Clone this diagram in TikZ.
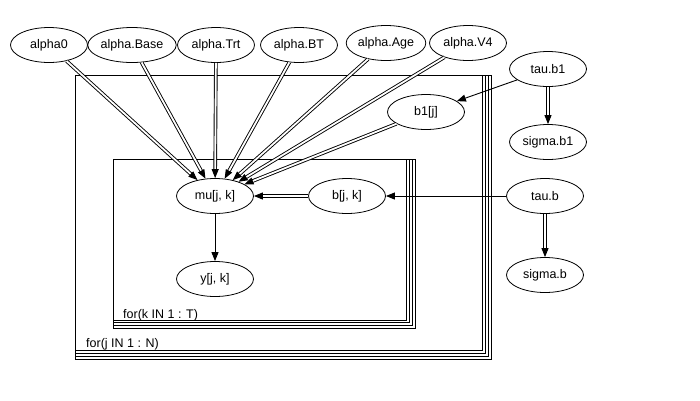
\documentclass[tikz,border=0pt]{standalone}
\usepackage{fontspec}
\setmainfont{Liberation Sans}
\usetikzlibrary{shapes.geometric,arrows.meta}
\begin{document}
\begin{tikzpicture}[x=1pt,y=-1pt,
  var/.style={ellipse,draw,line width=0.8pt,minimum width=77pt,minimum height=35pt,
    inner sep=0pt,font=\fontsize{12.5}{14}\selectfont},
  stoch/.style={draw,line width=0.9pt,-{Triangle[length=9pt,width=7pt]}},
  logic/.style={draw,line width=0.9pt,double,double distance=1.8pt,
    -{Triangle[length=9pt,width=7pt]}},
  platelbl/.style={anchor=west,inner sep=0pt,font=\fontsize{12.5}{14}\selectfont},
  plateline/.style={line width=0.8pt}]
\useasboundingbox (0,0) rectangle (700,400);

% plates, drawn as stacked frames sharing the top-left corner
\foreach \d in {0,2.8,5.6,8.4}
  \draw[plateline] (75.5,75) rectangle (482.7+\d,350.7+\d);
\foreach \d in {0,2.8,5.6,8.4}
  \draw[plateline] (113.3,159.3) rectangle (406.7+\d,320+\d);
\node[platelbl] (jlbl) at (86,344) {for(j IN 1 : N)};
\node[platelbl] (klbl) at (123,315) {for(k IN 1 : T)};

% top-level parameters
\node[var] (a0)   at (49,45)  {alpha0};
\node[var] (aB)   at (132,45) {alpha.Base};
\node[var] (aT)   at (216,45) {alpha.Trt};
\node[var] (aBT)  at (299,45) {alpha.BT};
\node[var] (aA)   at (386,43) {alpha.Age};
\node[var] (aV)   at (468,43) {alpha.V4};
\node[var] (taub1) at (548,69) {tau.b1};
\node[var] (sigb1) at (548,142) {sigma.b1};
\node[var] (taub)  at (545,196) {tau.b};
\node[var] (sigb)  at (545,275) {sigma.b};

% plate contents
\node[var] (b1)  at (426,112) {b1[j]};
\node[var] (mu)  at (215,196) {mu[j, k]};
\node[var] (b)   at (347,196) {b[j, k]};
\node[var] (y)   at (215,279) {y[j, k]};

% logical links
\foreach \s in {a0,aB,aT,aBT,aA,aV,b1}
  \draw[logic] (\s) -- (mu);
\draw[logic] (b) -- (mu);
\draw[logic] (taub1) -- (sigb1);
\draw[logic] (taub) -- (sigb);

% stochastic links
\draw[stoch] (taub1) -- (b1);
\draw[stoch] (taub) -- (b);
\draw[stoch] (mu) -- (y);
\end{tikzpicture}
\end{document}
